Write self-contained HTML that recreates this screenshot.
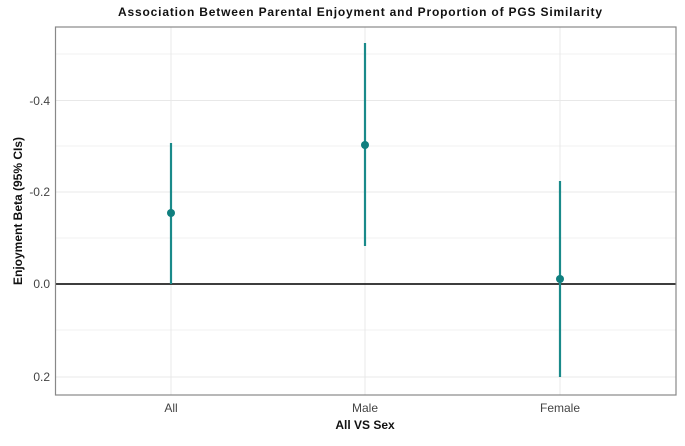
<!DOCTYPE html>
<html><head><style>body{margin:0;background:#fff}</style></head><body>
<svg width="685" height="441" xmlns="http://www.w3.org/2000/svg" font-family="Liberation Sans, sans-serif">
<rect width="685" height="441" fill="#fff"/>
<text x="360" y="16" text-anchor="middle" font-size="12" font-weight="bold" fill="#111" textLength="484" lengthAdjust="spacing">Association Between Parental Enjoyment and Proportion of PGS Similarity</text>
<g stroke="#f1f1f1" stroke-width="1">
<line x1="56" x2="676" y1="54" y2="54"/><line x1="56" x2="676" y1="146" y2="146"/><line x1="56" x2="676" y1="238" y2="238"/><line x1="56" x2="676" y1="330" y2="330"/>
</g>
<g stroke="#e8e8e8" stroke-width="1">
<line x1="56" x2="676" y1="100.5" y2="100.5"/><line x1="56" x2="676" y1="192" y2="192"/><line x1="56" x2="676" y1="377" y2="377"/>
<line x1="171" x2="171" y1="27" y2="395"/><line x1="365" x2="365" y1="27" y2="395"/><line x1="560" x2="560" y1="27" y2="395"/>
</g>
<line x1="56" x2="676" y1="284" y2="284" stroke="#222" stroke-width="1.8"/>
<g stroke="#1a8a8a" stroke-width="2.2">
<line x1="171" x2="171" y1="143" y2="284"/><line x1="365" x2="365" y1="43" y2="246"/><line x1="560" x2="560" y1="181" y2="377"/>
</g>
<g fill="#107f7f"><circle cx="171" cy="213" r="4"/><circle cx="365" cy="145" r="4"/><circle cx="560" cy="279" r="4"/></g>
<rect x="55.5" y="27" width="620.5" height="368" fill="none" stroke="#888" stroke-width="1.2"/>
<g font-size="12" fill="#444" text-anchor="end">
<text x="50" y="105">-0.4</text><text x="50" y="196">-0.2</text><text x="50" y="288">0.0</text><text x="50" y="381">0.2</text>
</g>
<g font-size="12" fill="#444" text-anchor="middle">
<text x="171" y="412">All</text><text x="365" y="412">Male</text><text x="560" y="412">Female</text>
</g>
<text x="365" y="429" text-anchor="middle" font-size="12" font-weight="bold" fill="#111">All VS Sex</text>
<text transform="translate(22,211) rotate(-90)" text-anchor="middle" font-size="12" font-weight="bold" fill="#111">Enjoyment Beta (95% CIs)</text>
</svg>
</body></html>
